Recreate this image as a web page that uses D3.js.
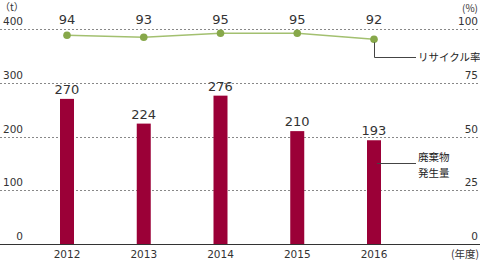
<!DOCTYPE html>
<html><head><meta charset="utf-8">
<script src="https://cdn.jsdelivr.net/npm/d3@7/dist/d3.min.js"></script>
<style>body{margin:0;background:#fff}svg{display:block}</style>
</head><body>
<svg id="c" width="480" height="260"></svg>
<script>
const years = ["2012","2013","2014","2015","2016"];
const waste = [270,224,276,210,193];
const recycle = [94,93,95,95,92];
const leftTicks = [0,100,200,300,400];
const rightTicks = ["0","25","50","75","100"];

const svg = d3.select("#c");
const num = "DejaVu Sans, Verdana, sans-serif";
const jp = "Noto Sans CJK JP, sans-serif";
const x = d3.scalePoint().domain(years).range([67,374]);
const y = d3.scaleLinear().domain([0,400]).range([244,29]);
const yl = d3.scaleLinear().domain([90,100]).range([43.3,23.3]);
const barW = 14;

// gridlines
svg.append("g").selectAll("line").data(leftTicks.filter(d=>d>0)).join("line")
  .attr("x1",0).attr("x2",480).attr("y1",d=>Math.round(y(d))+0.5).attr("y2",d=>Math.round(y(d))+0.5)
  .attr("stroke","#888").attr("stroke-dasharray","2,2").attr("stroke-width",1);

// left axis labels
svg.append("g").selectAll("text").data(leftTicks).join("text")
  .attr("x",23).attr("y",d=>y(d)-4).attr("text-anchor","end")
  .attr("font-family",num).attr("font-size",10.5).attr("fill","#333").text(d=>d);
// right axis labels
svg.append("g").selectAll("text").data(rightTicks).join("text")
  .attr("x",478).attr("y",(d,i)=>y(leftTicks[i])-4).attr("text-anchor","end")
  .attr("font-family",num).attr("font-size",10.5).attr("fill","#333").text(d=>d);

svg.append("text").attr("x",0).attr("y",11).attr("font-family",jp).attr("font-size",10).attr("fill","#333").text("（t）");
svg.append("text").attr("x",478).attr("y",12).attr("text-anchor","end").attr("font-family",jp).attr("font-size",10).attr("fill","#333").text("(%)");

// bars
svg.append("g").selectAll("rect").data(waste).join("rect")
  .attr("x",(d,i)=>x(years[i])-barW/2).attr("width",barW)
  .attr("y",d=>y(d)).attr("height",d=>y(0)-y(d)).attr("fill","#9b0037");
svg.append("g").selectAll("text").data(waste).join("text")
  .attr("x",(d,i)=>x(years[i])).attr("y",d=>y(d)-5).attr("text-anchor","middle")
  .attr("font-family",num).attr("font-size",13).attr("fill","#333").text(d=>d);

// baseline
svg.append("line").attr("x1",0).attr("x2",480).attr("y1",244.5).attr("y2",244.5)
  .attr("stroke","#333").attr("stroke-width",1.2);

// x labels
svg.append("g").selectAll("text").data(years).join("text")
  .attr("x",d=>x(d)).attr("y",258).attr("text-anchor","middle")
  .attr("font-family",num).attr("font-size",10.5).attr("fill","#333").text(d=>d);
svg.append("text").attr("x",479).attr("y",258).attr("text-anchor","end")
  .attr("font-family",jp).attr("font-size",10.5).attr("fill","#333").text("(年度)");

// recycle line
const line = d3.line().x((d,i)=>x(years[i])).y(d=>yl(d));
svg.append("path").datum(recycle).attr("d",line).attr("fill","none")
  .attr("stroke","#a3c070").attr("stroke-width",1.5);
svg.append("g").selectAll("circle").data(recycle).join("circle")
  .attr("cx",(d,i)=>x(years[i])).attr("cy",d=>yl(d)).attr("r",3.8).attr("fill","#87a84a");
svg.append("g").selectAll("text").data(recycle).join("text")
  .attr("x",(d,i)=>x(years[i])).attr("y",24).attr("text-anchor","middle")
  .attr("font-family",num).attr("font-size",13).attr("fill","#333").text(d=>d);

// annotations
const lx = x(years[4]);
svg.append("path").attr("d",`M${lx+0.5},${yl(recycle[4])+3} V57.5 H416`)
  .attr("fill","none").attr("stroke","#444").attr("stroke-width",1);
svg.append("text").attr("x",418).attr("y",61).attr("font-family",jp).attr("font-size",10.5).attr("fill","#222").text("リサイクル率");
svg.append("line").attr("x1",lx+3).attr("x2",416).attr("y1",163.5).attr("y2",163.5)
  .attr("stroke","#444").attr("stroke-width",1);
svg.append("text").attr("x",418).attr("y",161).attr("font-family",jp).attr("font-size",10.5).attr("fill","#222").text("廃棄物");
svg.append("text").attr("x",418).attr("y",177).attr("font-family",jp).attr("font-size",10.5).attr("fill","#222").text("発生量");
</script>
</body></html>
